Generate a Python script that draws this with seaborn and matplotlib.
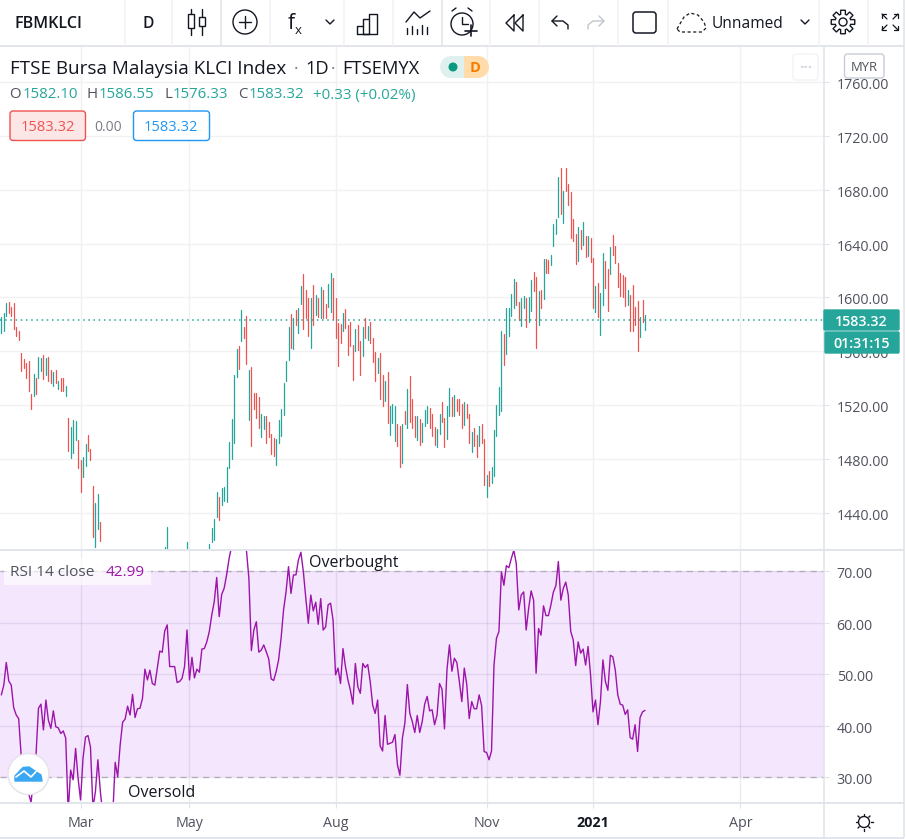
import numpy as np
import pandas as pd
import matplotlib
matplotlib.use("Agg")
import matplotlib.pyplot as plt
from matplotlib.patches import Rectangle, Circle, FancyBboxPatch, Polygon
from matplotlib.transforms import ScaledTranslation
import seaborn as sns

# ---------- data ----------
symbol = "FBMKLCI"
last_close = 1583.32
rsi_last = 42.99
bar_ids = list(range(0, 41)) + [66, 67, 75, 84] + list(range(85, 261))
highs = [1585.1,1588.1,1595.5,1596.2,1593.0,1595.7,1577.9,1574.9,1558.3,1554.1,1551.1,1552.9,1528.1,1543.0,1540.0,1555.6,1554.8,1556.8,1554.8,1555.6,
 1545.9,1544.4,1545.9,1537.8,1540.0,1540.0,1534.0,1510.2,1503.6,1508.8,1508.0,1493.9,1479.0,1481.3,1490.9,1497.6,1487.2,1459.7,1447.1,1453.7,1432.9,
 1414.4,1429.2,1418.1,1416.6,
 1428.5,1435.2,1455.2,1451.5,1458.2,1459.0,1473.8,1492.4,1509.5,1542.2,1561.5,1563.8,1590.5,1577.9,1586.1,1545.9,1548.2,1528.8,1528.8,1525.9,
 1513.2,1511.7,1511.7,1507.3,1498.4,1495.4,1494.6,1508.8,1516.9,1536.3,1552.6,1577.9,1587.6,1584.6,1590.5,1592.0,
 1608.4,1617.3,1605.4,1599.5,1599.5,1609.1,1601.7,1599.5,1607.6,1605.4,1595.0,1609.9,1618.0,1614.3,1599.5,1580.9,1580.1,1588.3,1591.3,1579.4,
 1581.6,1564.5,1576.4,1579.4,1567.5,1577.9,1584.6,1578.6,1581.6,1569.7,1559.3,1554.8,1558.6,1542.2,1537.7,1544.4,1519.2,1520.7,1519.2,1505.8,
 1504.3,1505.8,1515.4,1531.8,1541.5,1524.4,1511.7,1511.7,1509.5,1506.5,1516.2,1519.2,1517.7,1513.2,1503.6,1502.1,1513.2,1522.1,1510.2,1519.2,
 1532.5,1525.9,1527.3,1524.4,1524.4,1520.7,1522.1,1520.7,1513.2,1499.8,1502.8,1497.6,1504.3,1505.8,1494.6,1467.9,1470.8,1473.8,1501.3,1519.9,
 1533.3,1574.9,1572.7,1592.0,1592.0,1602.4,1613.6,1611.3,1596.5,
 1599.5,1601.0,1599.5,1600.3,1612.9,1618.8,1615.1,1604.7,1605.5,1628.5,1628.5,1627.8,1631.5,1654.5,1658.2,1689.5,1696.2,1679.1,1696.2,1684.3,
 1678.3,1658.2,1647.1,1652.3,1650.1,1656.0,1645.6,1645.6,1644.1,1629.2,1608.4,1610.7,1603.2,1633.0,1627.0,1621.1,1637.4,1646.3,1638.2,1625.5,
 1618.1,1616.6,1615.1,1605.5,1601.7,1609.2,1592.8,1597.3,1585.4,1598.0,1586.9]
lows = [1573.7,1575.2,1586.1,1588.1,1586.1,1576.7,1571.5,1568.2,1545.4,1547.4,1540.0,1530.6,1517.2,1526.6,1528.1,1540.0,1545.2,1539.5,1542.2,1537.8,
 1536.3,1534.0,1536.3,1531.8,1530.3,1530.3,1526.6,1485.7,1480.8,1484.2,1493.9,1473.1,1455.2,1466.4,1474.6,1485.7,1479.0,1421.8,1414.4,1427.7,1418.8,
 1405.0,1405.0,1405.0,1405.0,
 1418.1,1419.5,1436.6,1434.4,1445.6,1448.5,1447.8,1473.1,1479.8,1491.7,1540.7,1546.7,1567.5,1569.7,1550.4,1508.8,1489.4,1516.9,1510.2,1502.8,
 1496.1,1502.1,1491.7,1496.1,1483.5,1482.0,1475.3,1491.7,1496.9,1512.5,1537.8,1553.4,1562.3,1561.5,1579.4,1573.4,
 1595.0,1576.4,1584.6,1571.2,1562.3,1579.4,1586.8,1585.3,1584.6,1584.6,1584.6,1592.8,1589.0,1583.8,1569.7,1548.9,1566.0,1574.9,1577.1,1557.1,
 1563.8,1538.5,1560.1,1560.8,1542.2,1556.3,1569.7,1568.2,1566.0,1551.9,1537.7,1543.7,1524.4,1519.2,1522.9,1506.5,1497.6,1506.5,1493.1,1489.4,
 1473.8,1476.8,1505.8,1502.8,1507.3,1502.8,1496.1,1493.9,1490.2,1492.4,1504.3,1506.5,1502.8,1496.9,1490.2,1488.7,1498.3,1507.3,1488.7,1494.6,
 1511.7,1511.7,1511.7,1515.4,1512.5,1502.8,1505.0,1510.2,1491.7,1485.0,1489.4,1481.3,1489.4,1491.7,1460.4,1451.5,1459.7,1461.9,1467.1,1496.9,
 1512.5,1515.4,1549.6,1557.8,1571.2,1586.1,1592.0,1594.2,1583.1,
 1578.7,1592.1,1578.0,1581.7,1589.8,1604.7,1562.3,1579.4,1592.1,1598.8,1618.1,1618.1,1624.0,1638.2,1647.1,1659.7,1662.0,1655.3,1679.1,1668.6,
 1644.1,1641.9,1624.8,1627.0,1635.9,1638.9,1630.0,1630.7,1626.3,1592.1,1589.1,1585.4,1572.0,1594.3,1606.9,1589.8,1617.4,1631.5,1625.5,1607.7,
 1601.0,1600.3,1593.6,1594.3,1575.0,1575.0,1579.4,1560.1,1570.5,1581.7,1575.7]
up_flags = [1,1,1,0,0,0,0,0,0,0,0,0,0,1,0,1,1,0,1,0,
 0,1,0,1,0,0,1,0,1,1,1,0,0,1,1,0,0,0,1,1,0,
 1,1,1,1,
 1,1,1,0,1,1,1,1,1,1,1,0,1,0,0,1,0,0,0,0,
 1,1,0,0,0,0,1,1,1,1,1,1,0,1,0,1,
 1,0,0,0,1,0,1,0,1,0,0,1,1,0,0,0,0,1,0,0,
 0,0,1,0,0,1,0,1,0,0,0,1,0,0,1,0,1,1,1,0,
 0,1,0,1,0,0,0,1,0,1,1,1,0,0,0,1,1,0,0,1,
 1,0,1,0,0,0,1,0,0,1,0,0,1,0,0,1,0,1,1,1,
 1,1,0,1,1,1,1,0,0,
 1,1,0,1,1,0,0,1,0,1,0,0,1,1,1,1,0,1,0,0,
 0,0,0,1,0,1,0,1,0,0,1,0,1,1,0,0,1,0,0,0,
 0,0,0,1,0,0,0,0,1,0,1]
rsi_values = [46.0,47.9,52.3,48.7,47.9,43.5,42.1,41.4,34.3,33.0,30.4,26.9,25.1,29.8,34.3,43.4,44.2,39.2,45.0,41.1,
 39.5,42.9,39.8,39.6,38.5,39.0,37.6,23.3,31.4,29.5,35.6,29.8,25.6,33.7,37.8,38.1,35.9,24.0,27.2,33.4,
 27.2,22.7,21.4,20.1,20.7,22.7,32.9,30.1,36.3,40.7,41.3,43.8,42.1,46.1,41.6,43.3,43.4,45.3,51.0,48.9,
 50.8,48.2,47.9,51.2,54.5,54.3,58.4,59.6,51.5,51.5,51.5,48.4,48.6,49.2,51.5,58.6,48.9,53.3,49.3,51.0,
 50.4,54.9,55.0,56.3,58.3,61.5,64.1,68.8,61.2,65.5,66.7,69.3,72.5,74.8,79.0,80.3,79.6,80.9,79.0,74.1,
 68.6,54.6,58.6,60.2,54.3,54.7,55.7,54.4,53.0,49.1,48.8,50.5,52.8,57.0,62.5,66.0,70.9,65.7,69.3,69.3,
 72.2,73.7,69.9,64.7,59.9,65.4,62.3,64.0,59.7,64.7,58.6,59.2,63.5,63.8,60.5,49.9,51.2,48.2,55.0,51.5,
 48.9,46.9,44.2,52.1,47.6,46.3,52.1,51.3,51.9,48.6,44.0,42.4,45.0,36.1,35.1,42.0,36.4,36.6,36.8,38.3,
 32.4,30.4,37.6,40.5,48.0,42.4,40.8,38.7,42.0,38.7,40.8,44.2,45.7,42.9,43.1,40.2,42.1,48.2,47.1,39.4,
 50.8,55.7,50.6,53.1,52.3,48.6,44.7,51.2,48.0,41.4,44.7,43.3,43.3,46.0,43.9,35.0,34.8,33.4,35.1,51.8,
 57.0,58.3,69.9,67.3,71.1,70.7,72.5,74.1,71.5,62.5,65.4,66.0,58.6,62.8,66.2,64.4,50.2,58.9,57.6,63.3,
 61.4,61.4,63.5,66.0,67.2,71.9,64.4,66.7,67.9,65.4,58.3,56.7,51.7,56.3,54.1,54.9,51.8,55.4,49.9,42.7,
 45.0,40.2,44.7,52.8,48.6,46.9,53.7,53.4,50.8,46.0,44.2,44.0,42.2,43.1,37.7,37.4,40.2,35.0,41.6,42.7,42.99]
price_ticks = [1440, 1480, 1520, 1560, 1600, 1640, 1680, 1720, 1760]
rsi_ticks = [30, 40, 50, 60, 70]
month_bars = [32, 76, 135, 196, 239, 298.5]
month_labels = ["Mar", "May", "Aug", "Nov", "2021", "Apr"]

# ---------- style ----------
W, H = 906, 839
sns.set_theme(style="white")
FONT = "Open Sans"
plt.rcParams["font.family"] = [FONT, "DejaVu Sans"]
GREEN, RED = "#26a69a", "#ef5350"
PURPLE = "#9c14aa"
LINE = "#e0e3eb"
GRID = "#f1f1f4"
TXT = "#131722"
MUTED = "#50535e"
GREY = "#787b86"

fig = plt.figure(figsize=(W / 100, H / 100), dpi=100, facecolor="white")

def pane(x0, y0, x1, y1):
    return fig.add_axes([x0 / W, 1 - y1 / H, (x1 - x0) / W, (y1 - y0) / H])

ax_p = pane(0, 47, 824, 549)
ax_r = pane(0, 550, 824, 803)
x_lim = (-0.54, 332.3)

# ---------- price pane ----------
bars = pd.DataFrame({"bar": bar_ids, "high": highs, "low": lows, "up": up_flags})
bars["side"] = np.where(bars["up"] == 1, "up", "down")
long = bars.melt(id_vars=["bar", "side"], value_vars=["high", "low"], value_name="price")
sns.lineplot(data=long, x="bar", y="price", hue="side", units="bar", estimator=None,
             palette={"up": GREEN, "down": RED}, legend=False, lw=0.9, sort=False, ax=ax_p)
ax_p.axhline(last_close, color=GREEN, lw=1.1, ls=(0, (1, 2.4)), zorder=1.5)
ax_p.set_xlim(*x_lim)
ax_p.set_ylim(1412.9, 1786.1)

# ---------- RSI pane ----------
ax_r.axhspan(30, 70, color="#f4e6fd", lw=0, zorder=0.2)
ax_r.axhline(70, color="#b3abb8", lw=0.9, ls=(0, (5, 4)), zorder=1)
ax_r.axhline(30, color="#b3abb8", lw=0.9, ls=(0, (5, 4)), zorder=1)
rsi_df = pd.DataFrame({"bar": np.arange(len(rsi_values)), "rsi": rsi_values})
sns.lineplot(data=rsi_df, x="bar", y="rsi", color=PURPLE, lw=1.0, ax=ax_r, zorder=3)
ax_r.set_xlim(*x_lim)
ax_r.set_ylim(25.0, 74.14)

for ax, ticks in ((ax_p, price_ticks), (ax_r, rsi_ticks)):
    ax.set_xlabel("")
    ax.set_ylabel("")
    ax.yaxis.tick_right()
    ax.set_yticks(ticks)
    ax.set_yticklabels([f"{t:.2f}" for t in ticks], fontsize=10.3, color=MUTED)
    ax.set_xticks(month_bars)
    ax.set_axisbelow(True)
    ax.tick_params(axis="y", which="major", right=True, length=3.6, width=0.8, color=LINE, pad=5.5)
    for s in ("top", "left", "bottom"):
        ax.spines[s].set_visible(False)
    ax.spines["right"].set_color(LINE)
    ax.spines["right"].set_linewidth(1.1)
ax_p.grid(True, color=GRID, lw=1.0)
ax_r.grid(True, color="#6f5a96", alpha=0.13, lw=1.0)
ax_p.tick_params(axis="x", bottom=False, labelbottom=False)
ax_r.set_xticklabels(month_labels, fontsize=10.3, color=MUTED)
ax_r.tick_params(axis="x", bottom=True, length=3.6, width=0.8, color=LINE, pad=6)
ax_r.get_xticklabels()[4].set_fontweight("bold")
ax_r.get_xticklabels()[4].set_color(TXT)

# value labels sit slightly below their grid lines in the reference
label_shift = ScaledTranslation(0, -1.5 / 100, fig.dpi_scale_trans)
for ax in (ax_p, ax_r):
    for tick in ax.yaxis.get_major_ticks():
        tick.label2.set_transform(tick.label2.get_transform() + label_shift)

# ---------- overlay in picture coordinates (titles, widgets, toolbar) ----------
ov = fig.add_axes([0, 0, 1, 1], zorder=10)
ov.set_xlim(0, W)
ov.set_ylim(H, 0)
ov.axis("off")
ov.patch.set_alpha(0)

def t(x, y, s, size=10.3, color=TXT, ha="left", weight="normal", **kw):
    return ov.text(x, y, s, fontsize=size, color=color, ha=ha, va="center_baseline", fontweight=weight, **kw)

def ln(xs, ys, color=TXT, lw=1.0, **kw):
    ov.plot(xs, ys, color=color, lw=lw, solid_capstyle=kw.pop("cap", "round"), **kw)

def box(x0, y0, x1, y1, fc="white", ec=LINE, lw=1.0, r=3, z=2, alpha=None):
    ov.add_patch(FancyBboxPatch((x0 + r, y0 + r), x1 - x0 - 2 * r, y1 - y0 - 2 * r,
                                boxstyle=f"round,pad={r},rounding_size={r}", fc=fc, ec=ec, lw=lw, zorder=z, alpha=alpha))

# frame lines
ln([0, 904], [46, 46], LINE, 1.3, cap="butt")
ln([0, 904], [549.5, 549.5], LINE, 1.3, cap="butt")
ln([0, 904], [803, 803], LINE, 1.3, cap="butt")
ln([0, 904], [838, 838], LINE, 1.3, cap="butt")
ln([824.3, 824.3], [803, 838], LINE, 1.1, cap="butt")
ln([904, 904], [0, 838], LINE, 1.1, cap="butt")
for sx in [125, 172, 221, 270, 344, 393, 442, 490, 539, 618, 668, 819, 868]:
    ln([sx, sx], [0, 46], LINE if sx in (221, 442) else GRID, 1.1, cap="butt")

# toolbar
t(14, 22, symbol, 11.6, TXT, weight="semibold")
t(148, 22, "D", 11.2, TXT, ha="center", weight="semibold")
ln([191, 191], [9, 35]); ln([202, 202], [9, 35])
ov.add_patch(Rectangle((188, 14), 6, 14, fc="white", ec=TXT, lw=1, zorder=3))
ov.add_patch(Rectangle((199, 17), 6, 9, fc="white", ec=TXT, lw=1, zorder=3))
ov.add_patch(Circle((245, 22), 12, fc="none", ec=TXT, lw=1))
ln([239, 251], [22, 22]); ln([245, 245], [16, 28])
t(288, 21, "f", 15, TXT)
t(295, 29, "x", 9.5, TXT)
for cx in (330, 805):
    ln([cx - 4, cx, cx + 4], [20, 24, 20])
ln([357, 357, 363, 363, 369, 369, 377, 377, 357], [34, 26, 26, 34, 34, 14, 14, 34, 34])
ln([363, 363, 369], [26, 19, 19])
ln([406, 414, 420, 430], [22, 12, 18, 11])
for bx, by in zip([407, 412, 417, 422, 427], [28, 26, 29, 25, 27]):
    ln([bx, bx], [by, 34])
ov.add_patch(Circle((462, 24), 11, fc="none", ec=TXT, lw=1))
ln([462, 462, 468], [17, 24, 24]); ln([452, 456], [11, 8]); ln([468, 472], [8, 11])
ln([471, 471], [25, 36], lw=1.2); ln([465, 477], [31, 31], lw=1.2)
ln([514, 506, 514, 514], [15, 23, 31, 15])
ln([523, 515, 523, 523], [15, 23, 31, 15])
ln([557, 552, 557], [16, 21, 26]); ln([552, 563, 568, 568], [21, 21, 25, 29])
ln([599, 604, 599], [16, 21, 26], "#c2c5cf"); ln([604, 593, 588, 588], [21, 21, 25, 29], "#c2c5cf")
box(633, 12, 656, 33, fc="white", ec=TXT, lw=1.1, r=3)
cloud_x = [677, 684, 690, 698, 704, 706, 702, 680, 677]
cloud_y = [29, 17, 13, 15, 22, 28, 32, 32, 29]
ln(cloud_x, cloud_y, TXT, 0.9, ls=(0, (2.5, 2)))
t(712, 22, "Unnamed", 11.2, TXT)
ov.add_patch(Circle((843, 22), 4, fc="none", ec=TXT, lw=1))
gear = np.linspace(0, 2 * np.pi, 8, endpoint=False)
gx, gy = [], []
for a in gear:
    for da, rr in ((-0.3, 8), (-0.2, 12), (0.2, 12), (0.3, 8)):
        gx.append(843 + rr * np.cos(a + da))
        gy.append(22 + rr * np.sin(a + da))
ov.add_patch(Polygon(np.c_[gx, gy], closed=True, fc="none", ec=TXT, lw=1))
for sx, sy in ((882, 14), (898, 14), (882, 30), (898, 30)):
    dx = 1 if sx < 890 else -1
    dy = 1 if sy < 22 else -1
    ln([sx, sx + 5 * dx], [sy, sy + 5 * dy], lw=0.9)
    ln([sx, sx, sx + 4 * dx], [sy + 4 * dy, sy, sy], lw=0.9)

# header of the chart
t(10, 67, "FTSE Bursa Malaysia KLCI Index", 13.6, TXT)
t(296, 67, "·", 12.7, GREY, ha="center")
t(305, 67, "1D", 13.2, TXT)
t(333, 67, "·", 12.7, GREY, ha="center")
t(342, 67, "FTSEMYX", 13.2, TXT)
ov.add_patch(Rectangle((451, 56), 13, 22, fc="#dff1ef", ec="none", zorder=2))
ov.add_patch(Circle((451, 67), 11, fc="#dff1ef", ec="none", zorder=2))
ov.add_patch(Rectangle((464, 56), 14, 22, fc="#ffdcaa", ec="none", zorder=2))
ov.add_patch(Circle((478, 67), 11, fc="#ffdcaa", ec="none", zorder=2))
ov.add_patch(Circle((453, 67), 4.5, fc="#089981", ec="none", zorder=3))
t(475, 67, "D", 10.5, "#f57c00", ha="center", weight="bold", zorder=3)
box(793, 54, 818, 80, fc="white", ec="#f2f3f6", r=3)
t(805.5, 66, "···", 11, "#d1d4dc", ha="center", weight="bold", zorder=3)
box(844.5, 54, 884, 78, fc="white", ec="#c9ccd6", r=3)
t(864, 66, "MYR", 9.4, MUTED, ha="center", zorder=3)

# OHLC legend
for lx, vx, lab, val in ((9, 23, "O", "1582.10"), (86, 99, "H", "1586.55"), (164, 173, "L", "1576.33"), (238, 249, "C", "1583.32")):
    t(lx, 93, lab, 10.8, MUTED)
    t(vx, 93, val, 10.8, GREEN)
t(313, 93, "+0.33 (+0.02%)", 10.9, GREEN)

# price widgets
box(10, 111, 85.5, 140.5, fc="#fde6e6", ec=RED, r=3)
t(48, 125.5, f"{last_close:.2f}", 10.5, RED, ha="center", zorder=3)
t(108, 125.5, "0.00", 10.0, GREY, ha="center", zorder=3)
box(133.5, 111, 209.5, 140.5, fc="white", ec="#2196f3", r=3)
t(171, 125.5, f"{last_close:.2f}", 10.5, "#2196f3", ha="center", zorder=3)

# price tags
box(824, 310, 899, 330, fc=GREEN, ec=GREEN, r=1)
t(861.5, 320, f"{last_close:.2f}", 10.3, "white", ha="center", weight="semibold", zorder=3)
box(825, 332, 899, 353, fc=GREEN, ec=GREEN, r=1)
t(861.5, 342.5, "01:31:15", 10.3, "white", ha="center", weight="semibold", zorder=3)

# RSI pane annotations
ov.add_patch(Rectangle((4, 558), 147, 27, fc="white", ec="none", alpha=0.65, zorder=2))
t(10, 570, "RSI 14 close", 11.1, MUTED, zorder=3)
t(106, 570, f"{rsi_last:.2f}", 11.1, PURPLE, zorder=3)
t(309, 561, "Overbought", 11.5, TXT)
t(128, 791, "Oversold", 11.5, TXT)

# logo
ov.add_patch(Circle((28.5, 774), 20.5, fc="white", ec="#e6e3ea", lw=1.1, zorder=4))
ov.add_patch(Polygon([(15, 781), (15, 776), (23, 767.5), (29, 767), (35, 771), (41, 775), (42, 781)],
                     closed=True, fc="#39a7f2", ec="#39a7f2", lw=1, joinstyle="round", zorder=5))
ov.plot([16, 24, 31, 37], [777, 771, 777, 770.5], color="white", lw=1.2, zorder=6)

# settings sun
ov.add_patch(Circle((864, 822), 5.5, fc="none", ec=TXT, lw=1, zorder=3))
for dx, dy in ((0, -8.5), (0, 8.5), (-8.5, 0), (8.5, 0), (-6, -6), (6, -6), (-6, 6), (6, 6)):
    ln([864 + dx, 864 + dx * 0.8], [822 + dy, 822 + dy * 0.8], TXT, 1)

fig.savefig("out.png", dpi=100, facecolor="white")
